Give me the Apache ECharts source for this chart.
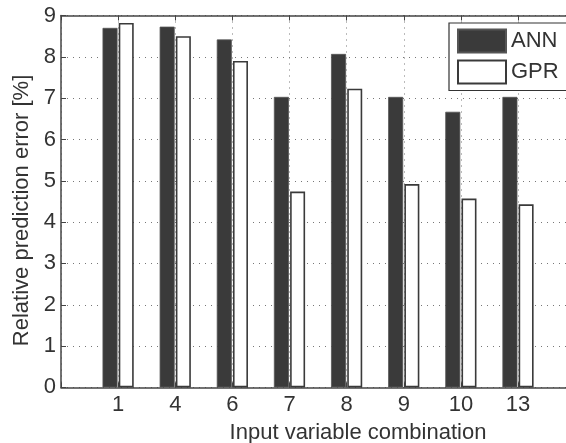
<!DOCTYPE html>
<html>
<head>
<meta charset="utf-8">
<script src="https://cdn.jsdelivr.net/npm/echarts@6/dist/echarts.min.js"></script>
<style>html,body{margin:0;padding:0;background:#fff}#c{width:566px;height:443px}</style>
</head>
<body>
<div id="c"></div>
<script>
var categories = ['1', '4', '6', '7', '8', '9', '10', '13'];
var annValues = [8.70, 8.73, 8.42, 7.03, 8.07, 7.03, 6.67, 7.03];
var gprValues = [8.82, 8.50, 7.90, 4.74, 7.23, 4.92, 4.57, 4.43];
var yTicks = [0, 1, 2, 3, 4, 5, 6, 7, 8, 9];
var seriesNames = ['ANN', 'GPR'];

var FONT = '"Liberation Sans", Arial, Helvetica, sans-serif';
var FS = 22;
function pairs(vals) { return vals.map(function (v, i) { return [i + 1, v]; }); }

var chart = echarts.init(document.getElementById('c'), null, { renderer: 'canvas' });
var gridLine = { show: true, lineStyle: { color: '#777', type: [1, 5], width: 1 } };
var XMAX = 8.84;
chart.setOption({
  animation: false,
  backgroundColor: '#fff',
  grid: { left: 61, top: 15.5, bottom: 55.6, right: 0, containLabel: false, outerBoundsMode: 'none' },
  legend: {
    data: seriesNames,
    orient: 'vertical',
    left: 449, top: 23,
    padding: [5.5, 30, 6, 8],
    itemGap: 6,
    itemWidth: 48, itemHeight: 23,
    borderColor: '#333', borderWidth: 1.2, backgroundColor: '#fff',
    icon: 'rect',
    textStyle: { fontFamily: FONT, fontSize: FS, color: '#333', lineHeight: 23 }
  },
  xAxis: [{
    type: 'value', min: 0, max: XMAX, interval: 1,
    name: 'Input variable combination', nameLocation: 'middle', nameGap: 34.5,
    nameTextStyle: { fontFamily: FONT, fontSize: FS, color: '#333', padding: [0, 0, 0, 89] },
    axisLine: { show: true, onZero: false, lineStyle: { color: '#444', width: 1.5 } },
    axisTick: { show: true, inside: true, length: 5, lineStyle: { color: '#444' } },
    axisLabel: {
      fontFamily: FONT, fontSize: FS, color: '#333', margin: 7, showMaxLabel: false,
      formatter: function (v) { return (v >= 1 && v <= categories.length) ? categories[v - 1] : ''; }
    },
    splitLine: gridLine
  }, {
    type: 'value', min: 0, max: XMAX, interval: 1, position: 'top',
    axisLine: { show: true, onZero: false, lineStyle: { color: '#444', width: 1.5 } },
    axisTick: { show: true, inside: true, length: 5, lineStyle: { color: '#444' } },
    axisLabel: { show: false }, splitLine: { show: false }
  }],
  yAxis: [{
    type: 'value', min: yTicks[0], max: yTicks[yTicks.length - 1], interval: 1,
    name: 'Relative prediction error [%]', nameLocation: 'middle', nameGap: 27.5,
    nameTextStyle: { fontFamily: FONT, fontSize: FS, color: '#333', padding: [0, 18, 0, 0] },
    axisLine: { show: true, lineStyle: { color: '#444', width: 1.5 } },
    axisTick: { show: true, inside: true, length: 5, lineStyle: { color: '#444' } },
    axisLabel: { fontFamily: FONT, fontSize: FS, color: '#333', margin: 5 },
    splitLine: gridLine
  }],
  series: [{
    name: seriesNames[0], type: 'bar', data: pairs(annValues),
    barWidth: 15, barGap: '8%',
    itemStyle: { color: '#3a3a3a', borderColor: '#555', borderWidth: 0.8 }
  }, {
    name: seriesNames[1], type: 'bar', data: pairs(gprValues),
    barWidth: 15, barGap: '8%',
    itemStyle: { color: '#fff', borderColor: '#3a3a3a', borderWidth: 1.6 }
  }]
});
</script>
</body>
</html>
